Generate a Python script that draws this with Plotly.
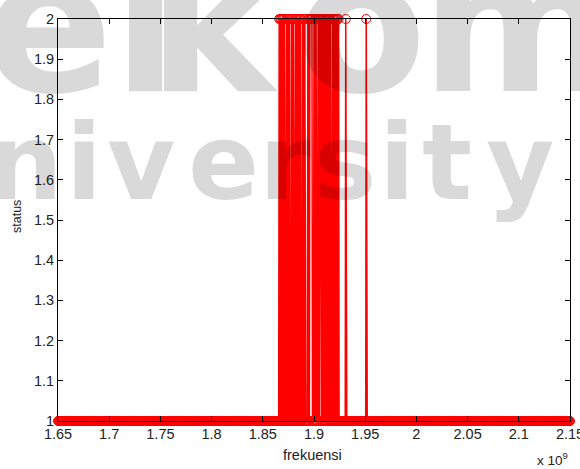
import numpy as np
import plotly.graph_objects as go

# ---------------- data ----------------
# frequency sweep grid (MHz)
f_start_mhz = 1650.0
f_stop_mhz = 2150.0
f_step_mhz = 0.5

# detector status for the busy part of the band,
# one value per 0.5 MHz starting at busy_start_mhz (1 = idle, 2 = occupied)
busy_start_mhz = 1864.0
busy_status = [
    1, 1, 1, 1, 2, 1, 2, 1, 2, 1,   # 1864-1868
    2, 1, 2, 1, 2, 1, 1, 1, 2, 1,   # 1869-1873
    2, 1, 2, 1, 2, 1, 1, 1, 2, 1,   # 1874-1878
    2, 1, 2, 1, 1, 1, 2, 1, 2, 1,   # 1879-1883
    2, 1, 2, 1, 2, 1, 2, 1, 1, 1,   # 1884-1888
    2, 1, 2, 1, 2, 1, 1, 1, 1, 1,   # 1889-1893
    2, 1, 2, 1, 2, 2, 2, 2, 2, 1,   # 1894-1898
    1, 1, 2, 1, 2, 1, 2, 1, 1, 1,   # 1899-1903
    2, 1, 2, 1, 2, 2, 2, 1, 2, 1,   # 1904-1908
    2, 1, 2, 1, 2, 1, 2, 1, 2, 1,   # 1909-1913
    2, 1, 2, 1, 2, 1, 1, 1, 2, 1,   # 1914-1918
    2, 1, 2, 1, 2, 1, 2, 1, 2, 1,   # 1919-1923
    2, 1, 1, 1, 1, 1, 1, 1, 1, 1,   # 1924-1928
    1, 1, 1, 1, 2, 1,               # 1929-1931
    1,                              # 1932
]
# isolated occupied readings outside the busy block (MHz)
lone_busy_mhz = [1951.0]

x_tick_vals_ghz = [1.65, 1.7, 1.75, 1.8, 1.85, 1.9, 1.95, 2.0, 2.05, 2.1, 2.15]
x_tick_labels = ["1.65", "1.7", "1.75", "1.8", "1.85", "1.9", "1.95", "2", "2.05", "2.1", "2.15"]
y_tick_vals = [1.0, 1.1, 1.2, 1.3, 1.4, 1.5, 1.6, 1.7, 1.8, 1.9, 2.0]
y_tick_labels = ["1", "1.1", "1.2", "1.3", "1.4", "1.5", "1.6", "1.7", "1.8", "1.9", "2"]

# ---------------- build series ----------------
freq_mhz = np.arange(f_start_mhz, f_stop_mhz + f_step_mhz / 2, f_step_mhz)
status = np.ones_like(freq_mhz)
i0 = int(round((busy_start_mhz - f_start_mhz) / f_step_mhz))
status[i0:i0 + len(busy_status)] = busy_status
for f in lone_busy_mhz:
    status[int(round((f - f_start_mhz) / f_step_mhz))] = 2
freq_hz = freq_mhz * 1e6

# ---------------- figure ----------------
W, H = 580, 469
ML, MR, MT, MB = 58, 10, 19, 48
PW, PH = W - ML - MR, H - MT - MB


def xp(px):
    return (px - ML) / PW


def yp(py):
    return (MT + PH - py) / PH


fig = go.Figure()
fig.add_trace(go.Scatter(
    x=freq_hz, y=status, mode="lines+markers",
    line=dict(color="#ff0000", width=1.5),
    marker=dict(symbol="circle-open", size=9, color="#ff0000", line=dict(width=1, color="#ff0000")),
    cliponaxis=False, showlegend=False, hoverinfo="skip",
))

tick_font = dict(family="Liberation Sans, Arial, sans-serif", size=14.5, color="#222222")
axis_common = dict(
    showline=True, linecolor="black", linewidth=1, mirror="ticks",
    ticks="inside", ticklen=5, tickwidth=1, tickcolor="black",
    showgrid=False, zeroline=False, tickfont=tick_font,
    automargin=False, ticklabeloverflow="allow",
)
fig.update_xaxes(range=[1.65e9, 2.15e9], tickvals=[v * 1e9 for v in x_tick_vals_ghz],
                 ticktext=x_tick_labels, **axis_common)
fig.update_yaxes(range=[1, 2], tickvals=y_tick_vals, ticktext=y_tick_labels, **axis_common)

annotations = []
label_font = dict(family="Liberation Sans, Arial, sans-serif", color="#222222")
annotations.append(dict(text="status", x=xp(17), y=yp(217), xref="paper", yref="paper",
                        showarrow=False, textangle=-90, font=dict(size=12.5, **label_font),
                        xanchor="center", yanchor="middle"))
annotations.append(dict(text="frekuensi", x=xp(312), y=yp(455), xref="paper", yref="paper",
                        showarrow=False, font=dict(size=14.5, **label_font),
                        xanchor="center", yanchor="middle"))
annotations.append(dict(text="x 10<sup>9</sup>", x=xp(552), y=yp(459), xref="paper", yref="paper",
                        showarrow=False, font=dict(size=13.5, **label_font),
                        xanchor="center", yanchor="middle"))

# watermark (Telkom University), drawn as translucent letters
wm_color = "rgba(0,0,0,0.15)"
wm_letters = [
    ("e", 48, 92, 190), ("l", 145, 92, 190), ("k", 213, 92, 190), ("o", 361, 92, 190), ("m", 520, 92, 190),
    ("n", 25, 200, 105), ("i", 84, 200, 105), ("v", 141, 200, 105), ("e", 223, 200, 105),
    ("r", 285, 200, 105), ("s", 345, 200, 105), ("i", 397, 200, 105), ("t", 447, 200, 105),
    ("y", 520, 200, 105),
]
for ch, cx, base, size in wm_letters:
    annotations.append(dict(text=ch, x=xp(cx), y=yp(base + 0.236 * size + 1), xref="paper", yref="paper",
                            showarrow=False, xanchor="center", yanchor="bottom",
                            font=dict(family="DejaVu Sans", size=size, color=wm_color, weight="bold")))

fig.update_layout(
    width=W, height=H, margin=dict(l=ML, r=MR, t=MT, b=MB),
    paper_bgcolor="white", plot_bgcolor="white",
    annotations=annotations,
)

fig.write_html("out.html")
